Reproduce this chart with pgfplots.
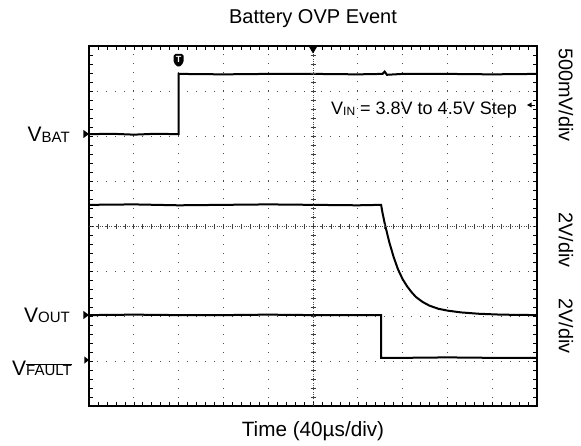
\documentclass[border=0pt]{standalone}
\usepackage{pgfplots}
\pgfplotsset{compat=1.18}
\usepackage{fontspec}
\setmainfont{Liberation Sans}
\begin{document}
\begin{tikzpicture}[x=1pt,y=1pt]
\path[use as bounding box] (-89,-39) rectangle (492,406);
\begin{axis}[at={(0,0)}, anchor=south west, scale only axis,
  width=448pt, height=360pt,
  xmin=0, xmax=10, ymin=0, ymax=8,
  xtick={0,...,10}, ytick={0,...,8}, minor tick num=4,
  xticklabels={}, yticklabels={},
  tick align=inside, major tick length=4pt, minor tick length=4pt,
  tick style={black, line width=0.6pt},
  grid=major,
  x grid style={black!70, line width=0.9pt, dash pattern=on 1pt off 8pt, dash phase=0.5pt},
  y grid style={black!70, line width=0.9pt, dash pattern=on 1pt off 7.96pt, dash phase=0.5pt},
  axis line style={line width=2pt},
  clip=false]
% V_BAT
\addplot[black, line width=2pt] coordinates {
(0,6.04) (0.5,6.05) (1.0,6.03) (1.5,6.05) (2.0,6.04) (2.0,7.38) (3,7.37) (4,7.38) (5,7.38) (6,7.37) (6.55,7.38) (6.6,7.43) (6.65,7.36) (7,7.38) (8,7.38) (9,7.37) (10,7.38)};
% V_OUT
\addplot[black, line width=2pt] coordinates {
(0,4.47) (1,4.48) (2,4.46) (3,4.47) (4,4.48) (5,4.47) (6,4.46) (6.52,4.47)
(6.55,4.30) (6.6,4.06) (6.7,3.65) (6.8,3.31) (6.9,3.03) (7.0,2.82) (7.1,2.66)
(7.2,2.53) (7.3,2.42) (7.45,2.31) (7.6,2.23) (7.8,2.16) (8.0,2.12) (8.3,2.08)
(8.7,2.05) (9.2,2.03) (10,2.02)};
% V_FAULT
\addplot[black, line width=2pt] coordinates {
(0,2.02) (1,2.03) (2,2.02) (3,2.02) (4,2.03) (5,2.02) (6,2.02) (6.52,2.02) (6.52,1.07) (7,1.07) (8,1.08) (9,1.07) (10,1.07)};
\end{axis}
% centre graticule lines
\draw[black!70, line width=0.7pt, dash pattern=on 0.8pt off 1.45pt] (224,0) -- (224,360);
\draw[black!70, line width=0.7pt, dash pattern=on 0.8pt off 1.44pt] (0,180) -- (448,180);
\foreach \i in {1,...,39} {\draw[black!75, line width=0.6pt] (224-2.5,\i*9) -- (224+2.5,\i*9);}
\foreach \i in {1,...,49} {\draw[black!75, line width=0.6pt] (\i*8.96,180-2.5) -- (\i*8.96,180+2.5);}
% markers
\fill (219.5,360) -- (228.5,360) -- (224,352.5) -- cycle;
\fill (-5.5,272-4) -- (0,272) -- (-5.5,272+4) -- cycle;
\fill (-5.5,91-4) -- (0,91) -- (-5.5,91+4) -- cycle;
\fill (-4.5,46-3.5) -- (0,46) -- (-4.5,46+3.5) -- cycle;
\fill (438,301) -- (442.5,303.5) -- (442.5,298.5) -- cycle;
\draw[line width=0.8pt] (442,301) -- (446,301);
\fill[rounded corners=1.8pt] (84.6,352) -- (94.6,352) -- (94.6,343) -- (89.6,338.5) -- (84.6,343) -- cycle;
\node[white, font=\bfseries\fontsize{9}{9}\selectfont, inner sep=0pt] at (89.6,346.3) {T};
% texts
\node[font=\fontsize{20}{24}\selectfont] at (224,387) {Battery OVP Event};
\node[font=\fontsize{20.7}{24}\selectfont] at (224,-25) {Time (40\textmu s/div)};
\node[anchor=base east, inner sep=0pt, font=\fontsize{21}{24}\selectfont] at (-19,264) {V\raisebox{-0.5pt}{\fontsize{15}{15}\selectfont BAT}};
\node[anchor=base east, inner sep=0pt, font=\fontsize{21}{24}\selectfont] at (-19,84) {V\raisebox{-0.5pt}{\fontsize{15}{15}\selectfont OUT}};
\node[anchor=base east, inner sep=0pt, font=\fontsize{21}{24}\selectfont] at (-17,31) {V\raisebox{-0.5pt}{$\overline{\hbox{\fontsize{15}{15}\selectfont FAULT}}$}};
\node[anchor=base, inner sep=0pt, font=\fontsize{18}{20}\selectfont] at (335,291) {V\raisebox{-0.5pt}{\fontsize{12}{12}\selectfont IN} = 3.8V to 4.5V Step};
\node[rotate=-90, font=\fontsize{19.8}{22}\selectfont] at (477,311) {500mV/div};
\node[rotate=-90, font=\fontsize{19.8}{22}\selectfont] at (477,166) {2V/div};
\node[rotate=-90, font=\fontsize{19.8}{22}\selectfont] at (477,80) {2V/div};
\end{tikzpicture}
\end{document}
